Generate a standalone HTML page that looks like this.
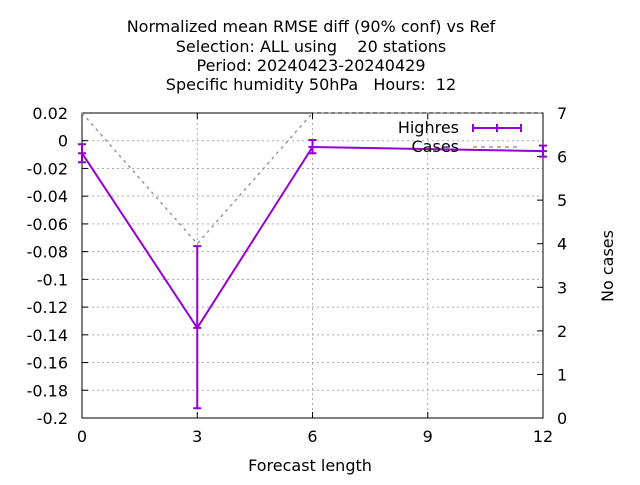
<!DOCTYPE html>
<html><head><meta charset="utf-8"><style>
body{margin:0;background:#fff}
svg text{font-family:"DejaVu Sans",sans-serif;font-size:16px;fill:#000;white-space:pre}
</style></head><body>
<svg id="c" width="640" height="480" xmlns="http://www.w3.org/2000/svg">
<g>
<text x="311" y="32" text-anchor="middle">Normalized mean RMSE diff (90% conf) vs Ref</text>
<text x="311" y="52" text-anchor="middle">Selection: ALL using    20 stations</text>
<text x="311" y="71" text-anchor="middle">Period: 20240423-20240429</text>
<text x="311" y="90" text-anchor="middle">Specific humidity 50hPa   Hours:  12</text>
</g>
<text x="310" y="471" text-anchor="middle">Forecast length</text>
<text transform="translate(613,266) rotate(-90)" text-anchor="middle">No cases</text>
<g id="grid"></g><g id="axes"></g><g id="series"></g>
<g>
<text x="459" y="133" text-anchor="end">Highres</text>
<line x1="473" y1="128" x2="521" y2="128" stroke="#9400d3" stroke-width="2"/>
<line x1="473" y1="124" x2="473" y2="132" stroke="#9400d3" stroke-width="2"/>
<line x1="521" y1="124" x2="521" y2="132" stroke="#9400d3" stroke-width="2"/>
<line x1="497" y1="124" x2="497" y2="132" stroke="#9400d3" stroke-width="2"/>
<text x="459" y="152" text-anchor="end">Cases</text>
<line x1="473" y1="147" x2="521" y2="147" stroke="#999" stroke-width="1.5" stroke-dasharray="4,4"/>
</g>
</svg>
<script>
const xVals=[0,3,6,12];
const highres=[-0.009,-0.135,-0.0045,-0.0075];
const errLo=[-0.0155,-0.193,-0.009,-0.0115];
const errHi=[-0.0025,-0.076,0.0005,-0.0035];
const cases=[7,4,7,7];
const xTicks=[0,3,6,9,12];
const yTicks=[0.02,0,-0.02,-0.04,-0.06,-0.08,-0.1,-0.12,-0.14,-0.16,-0.18,-0.2];
const y2Ticks=[0,1,2,3,4,5,6,7];
const L=82,R=543,T=113,B=418;
const X=v=>L+(v-0)/12*(R-L);
const Y=v=>B-(v+0.2)/0.22*(B-T);
const Y2=v=>B-v/7*(B-T);
const NS="http://www.w3.org/2000/svg";
function mk(p,tag,a){const e=document.createElementNS(NS,tag);for(const k in a)e.setAttribute(k,a[k]);document.getElementById(p).appendChild(e);return e;}
xTicks.forEach(v=>{
 if(v>0&&v<12){const g=mk('grid','line',{x1:X(v),x2:X(v),y1:T,y2:B,stroke:'#aaa','stroke-dasharray':'2,3'});
 
 }
 const t=mk('axes','text',{x:X(v),y:B+24,'text-anchor':'middle'});t.textContent=v;
 
 
 mk('axes','line',{x1:X(v),x2:X(v),y1:B,y2:B-6,stroke:'#000'});
 mk('axes','line',{x1:X(v),x2:X(v),y1:T,y2:T+6,stroke:'#000'});
});
yTicks.forEach(v=>{
 if(v<0.019&&v>-0.199){const g=mk('grid','line',{x1:L,x2:R,y1:Y(v),y2:Y(v),stroke:'#aaa','stroke-dasharray':'2,3'});
 
 }
 const t=mk('axes','text',{x:L-14,y:Y(v)+6,'text-anchor':'end'});t.textContent=Math.abs(v)<1e-9?'0':String(+v.toFixed(2));
 
 
 mk('axes','line',{x1:L,x2:L+6,y1:Y(v),y2:Y(v),stroke:'#000'});
});
y2Ticks.forEach(v=>{
 const t=mk('axes','text',{x:R+14,y:Y2(v)+6});t.textContent=v;
 
 
 mk('axes','line',{x1:R,x2:R-6,y1:Y2(v),y2:Y2(v),stroke:'#000'});
});
const fr=mk('axes','rect',{x:L,y:T,width:R-L,height:B-T,fill:'none',stroke:'#000'});


const cl=mk('series','polyline',{points:xVals.map((x,i)=>X(x)+','+Y2(cases[i])).join(' '),fill:'none',stroke:'#999','stroke-width':1.5,'stroke-dasharray':'3,4'});


const hl=mk('series','polyline',{points:xVals.map((x,i)=>X(x)+','+Y(highres[i])).join(' '),fill:'none',stroke:'#9400d3','stroke-width':2});


xVals.forEach((x,i)=>{
 const e=mk('series','path',{d:`M${X(x)},${Y(errLo[i])}V${Y(errHi[i])}M${X(x)-4},${Y(errLo[i])}h8M${X(x)-4},${Y(errHi[i])}h8M${X(x)-4},${Y(highres[i])}h8`,stroke:'#9400d3','stroke-width':2,fill:'none'});
 
 
});
</script>
</body></html>
